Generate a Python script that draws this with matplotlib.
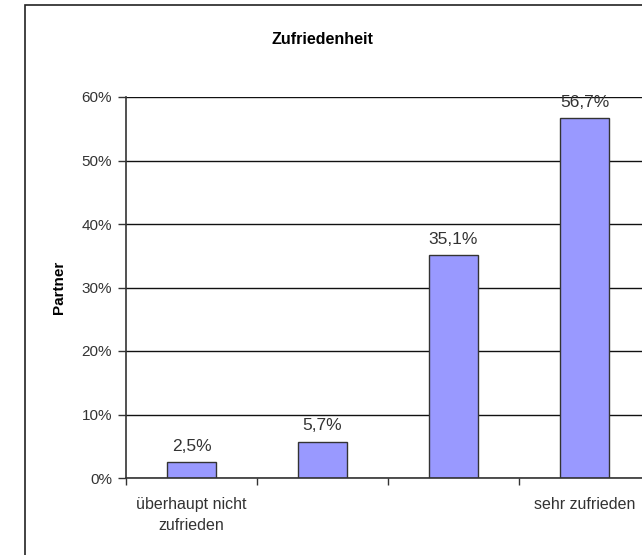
import matplotlib
matplotlib.use("Agg")
import matplotlib.pyplot as plt
from matplotlib.patches import Rectangle
from matplotlib.ticker import FuncFormatter

# Zufriedenheit der Partner
categories = ["überhaupt nicht\nzufrieden", "", "", "sehr zufrieden"]
values = [2.5, 5.7, 35.1, 56.7]
value_labels = ["2,5%", "5,7%", "35,1%", "56,7%"]
y_ticks = [0, 10, 20, 30, 40, 50, 60]

plt.rcParams['font.family'] = ['Liberation Sans', 'DejaVu Sans']
text_col = '#333333'

fig = plt.figure(figsize=(6.42, 5.55), dpi=100)
fig.patch.set_facecolor('white')

# chart frame (right and bottom edges are cut off in the original)
fig.patches.append(Rectangle((25 / 642, -0.2), 1.2, 1.2 - 5 / 555,
                             transform=fig.transFigure, fill=False,
                             edgecolor='#222222', linewidth=1.2, clip_on=False))

ax = fig.add_axes([126 / 642, 1 - 478 / 555, 524 / 642, 381 / 555])
x = list(range(len(values)))
ax.bar(x, values, width=0.38, color='#9999ff', edgecolor='#333333',
       linewidth=1.0, zorder=3)

for xi, v, lab in zip(x, values, value_labels):
    ax.annotate(lab, (xi, v), xytext=(0, 6), textcoords='offset points',
                ha='center', va='bottom', fontsize=12.5, color=text_col)

ax.set_xlim(-0.5, 3.5)
ax.set_ylim(0, 60)
ax.set_yticks(y_ticks)
ax.yaxis.set_major_formatter(FuncFormatter(lambda v, p: f"{v:.0f}%"))
ax.grid(axis='y', color='#111111', linewidth=1.0, zorder=0)

ax.set_xticks([i + 0.5 for i in range(-1, len(values))])
ax.set_xticklabels([])
ax.set_xticks(x, minor=True)
ax.set_xticklabels(categories, minor=True, fontsize=11.5, color=text_col,
                   linespacing=1.45)
ax.tick_params(axis='x', which='minor', length=0, pad=14)
ax.tick_params(axis='x', which='major', length=5, width=1, color='#333333')
ax.tick_params(axis='y', length=6, width=1, color='#333333',
               labelsize=11, labelcolor=text_col, pad=4)

for s in ['top', 'right']:
    ax.spines[s].set_visible(False)
for s in ['left', 'bottom']:
    ax.spines[s].set_color('#333333')
    ax.spines[s].set_linewidth(1.2)
    ax.spines[s].set_zorder(4)

ax.set_ylabel("Partner", fontsize=11, fontweight='bold', color='black',
              labelpad=11)
fig.text(322 / 642, 1 - 40 / 555, "Zufriedenheit", ha='center', va='center',
         fontsize=11.5, fontweight='bold', color='black')

fig.savefig("out.png", dpi=100)
